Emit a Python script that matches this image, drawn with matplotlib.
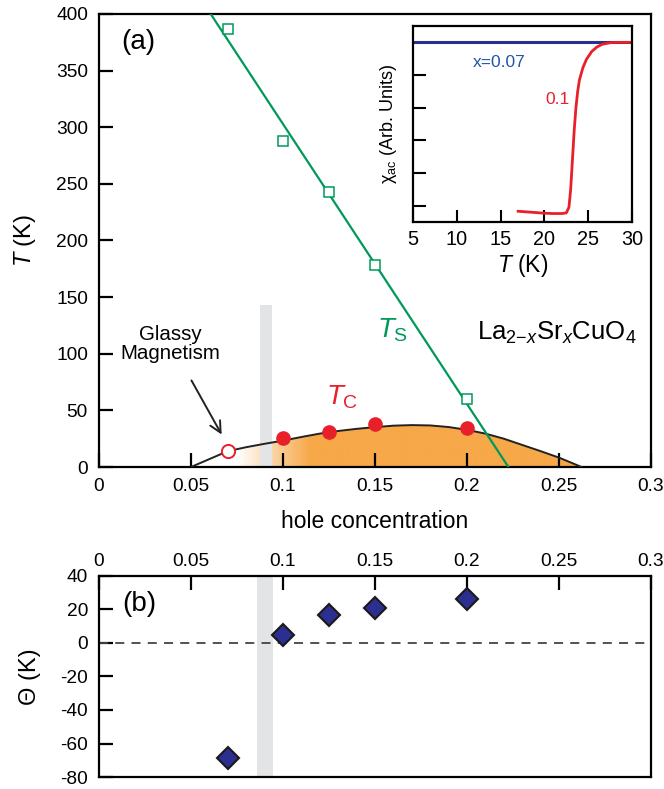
import numpy as np
import matplotlib
matplotlib.use("Agg")
import matplotlib.pyplot as plt
from matplotlib.patches import Polygon

plt.rcParams['font.family'] = ['Liberation Sans', 'DejaVu Sans']
plt.rcParams['mathtext.fontset'] = 'custom'
plt.rcParams['mathtext.rm'] = 'Liberation Sans'
plt.rcParams['mathtext.it'] = 'Liberation Sans:italic'
plt.rcParams['axes.linewidth'] = 1.6
plt.rcParams['axes.unicode_minus'] = False

GREEN = '#00995a'
RED = '#e8202a'
ORANGE = np.array([247, 168, 72]) / 255.0
NAVY = '#2b2f8f'
GREY = '#e3e4e6'

# structural transition T_S
ts_x = [0.07, 0.10, 0.125, 0.15, 0.20]
ts_T = [387, 288, 243, 178, 60]
ts_line_x = [0.0607, 0.2225]
ts_line_T = [400, 0]

# superconducting T_C
tc_x = [0.10, 0.125, 0.15, 0.20]
tc_T = [26, 31, 38, 34.6]
glassy_x = [0.07]
glassy_T = [14]

# dome boundary
dome_x = [0.05, 0.06, 0.07, 0.08, 0.09, 0.10, 0.11, 0.12, 0.13, 0.14, 0.15,
          0.16, 0.17, 0.18, 0.19, 0.20, 0.21, 0.22, 0.23, 0.24, 0.25, 0.2623]
dome_T = [0, 7, 14, 17.5, 20.5, 23.3, 26.5, 29.5, 31.8, 33.7, 35.2,
          36.5, 37, 36.7, 35.3, 32.8, 29.5, 25, 19.5, 14, 8.3, 0]

# Weiss temperature
theta_x = [0.07, 0.10, 0.125, 0.15, 0.20]
theta_T = [-68.5, 5, 17, 21, 26]

# inset chi_ac
chi07_T = [5, 30]
chi07 = [5.5, 5.5]
chi10_T = [17, 18, 19, 20, 21, 22, 22.5, 22.8, 23.0, 23.2, 23.4, 23.6, 23.8,
           24.0, 24.4, 24.8, 25.4, 26.0, 26.6, 27.5, 28.5, 30]
chi10 = [0.33, 0.31, 0.29, 0.27, 0.26, 0.26, 0.28, 0.45, 1.0, 1.9, 2.8, 3.5,
         4.0, 4.35, 4.73, 4.98, 5.22, 5.36, 5.44, 5.49, 5.5, 5.5]

xticks = [0, 0.05, 0.1, 0.15, 0.2, 0.25, 0.3]
xticklabels = ['0', '0.05', '0.1', '0.15', '0.2', '0.25', '0.3']

fig = plt.figure(figsize=(6.64, 7.89), dpi=100)

# ---- panel (a)
ax = fig.add_axes([0.1491, 0.4081, 0.8313, 0.5742])
ax.set_xlim(0, 0.3)
ax.set_ylim(0, 400)

# gradient fill under dome
ramp = np.linspace(0, 0.3, 600)
frac = np.clip((ramp - 0.075) / (0.115 - 0.075), 0, 1)
img = np.ones((2, len(ramp), 3))
for c in range(3):
    img[:, :, c] = 1 + (ORANGE[c] - 1) * frac
im = ax.imshow(img, extent=[0, 0.3, 0, 400], aspect='auto', origin='lower', zorder=1)
poly = Polygon(np.column_stack([dome_x, dome_T]), closed=True, transform=ax.transData,
               facecolor='none', edgecolor='none')
ax.add_patch(poly)
im.set_clip_path(poly)
ax.plot(dome_x, dome_T, color='#222222', lw=1.4, zorder=3)

ax.fill_between([0.0875, 0.0942], 0, 143, color=GREY, lw=0, zorder=2)

ax.plot(ts_line_x, ts_line_T, color=GREEN, lw=1.6, zorder=4)
ax.plot(ts_x, ts_T, 's', ms=7.5, mfc='white', mec=GREEN, mew=1.1, zorder=5)
ax.plot(tc_x, tc_T, 'o', ms=9.5, color=RED, zorder=6)
ax.plot(glassy_x, glassy_T, 'o', ms=9.5, mfc='white', mec=RED, mew=1.4, zorder=6)

ax.set_xticks(xticks)
ax.set_xticklabels(xticklabels)
ax.set_yticks(range(0, 401, 50))
ax.tick_params(direction='in', length=10, width=1.6, labelsize=13.8, pad=8)
ax.set_xlabel('hole concentration', fontsize=16.5, labelpad=11)
ax.set_ylabel('$T$ (K)', fontsize=17, labelpad=13)

ax.text(0.0214, 375, '(a)', fontsize=20, ha='center', va='center')
ax.text(0.0386, 109, 'Glassy\nMagnetism', fontsize=14.8, ha='center', va='center',
        linespacing=1.0)
ax.annotate('', xy=(0.0674, 26.5), xytext=(0.0495, 78.6),
            arrowprops=dict(arrowstyle='->', lw=1.4, color='#222222',
                            mutation_scale=20))
ax.text(0.1598, 121, r'$T_{\mathrm{S}}$', color=GREEN, fontsize=20, ha='center', va='center')
ax.text(0.132, 62, r'$T_{\mathrm{C}}$', color=RED, fontsize=20, ha='center', va='center')
ax.text(0.249, 118, 'La$_{2{\u2212}x}$Sr$_x$CuO$_4$', fontsize=18.5, ha='center', va='center')

# ---- inset
ins = fig.add_axes([0.622, 0.7186, 0.3298, 0.2484])
ins.set_xlim(5, 30)
ins.set_ylim(0, 6)
ins.plot(chi07_T, chi07, color=NAVY, lw=2.2)
ins.plot(chi10_T, chi10, color=RED, lw=2.0)
ins.set_xticks([5, 10, 15, 20, 25, 30])
ins.set_yticks([0.5, 1.5, 2.5, 3.5, 4.5])
ins.set_yticklabels([])
ins.tick_params(direction='in', length=9, width=1.5, labelsize=14.3, pad=6)
ins.set_xlabel('$T$ (K)', fontsize=16.5, labelpad=2)
ins.set_ylabel('χ$_{\\mathrm{ac}}$ (Arb. Units)', fontsize=13, labelpad=4)
ins.text(14.8, 4.87, 'x=0.07', color='#1f56a5', fontsize=12.5, ha='center', va='center')
ins.text(21.5, 3.75, '0.1', color=RED, fontsize=12.5, ha='center', va='center')

# ---- panel (b)
bx = fig.add_axes([0.1491, 0.0152, 0.8313, 0.2548])
bx.set_xlim(0, 0.3)
bx.set_ylim(-80, 40)
bx.axvspan(0.0857, 0.0944, color=GREY, lw=0, zorder=1)
bx.axhline(0, color='#444444', lw=1.3, ls=(0, (5, 4)), zorder=2)
bx.plot(theta_x, theta_T, 'D', ms=11, mfc=NAVY, mec='#1a1a1a', mew=1.5, zorder=4)
bx.xaxis.tick_top()
bx.set_xticks(xticks)
bx.set_xticklabels(xticklabels)
bx.set_yticks(range(-80, 41, 20))
bx.tick_params(direction='in', length=10, width=1.6, labelsize=13.8, pad=8)
bx.tick_params(axis='x', pad=4)
bx.set_ylabel('Θ (K)', fontsize=17, labelpad=14)
bx.text(0.022, 23, '(b)', fontsize=20, ha='center', va='center')

fig.savefig('out.png', dpi=100)
